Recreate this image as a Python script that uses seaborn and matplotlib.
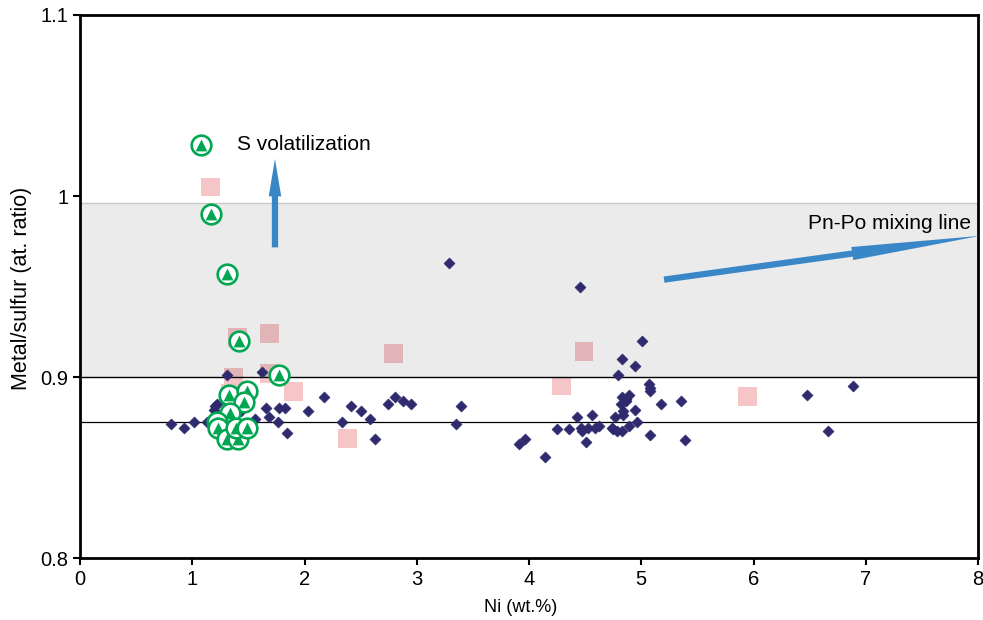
import matplotlib
matplotlib.use("Agg")
import matplotlib.pyplot as plt
import seaborn as sns
from matplotlib.legend_handler import HandlerTuple

# Pentlandite / pyrrhotite analyses: Ni content vs metal/sulfur atomic ratio
ni_sulfide = [0.81, 0.93, 1.02, 1.13, 1.19, 1.20, 1.22, 1.31, 1.43, 1.56, 1.62, 1.66,
              1.68, 1.76, 1.77, 1.83, 1.84, 2.03, 2.17, 2.33, 2.41, 2.50, 2.58, 2.63,
              2.74, 2.81, 2.88, 2.95, 3.29, 3.35, 3.39, 3.91, 3.96, 4.14, 4.25, 4.36,
              4.43, 4.45, 4.46, 4.47, 4.51, 4.53, 4.56, 4.59, 4.62, 4.74, 4.75, 4.78,
              4.77, 4.79, 4.82, 4.83, 4.83, 4.83, 4.84, 4.84, 4.86, 4.86, 4.89, 4.89,
              4.94, 4.94, 4.96, 5.01, 5.07, 5.08, 5.08, 5.08, 5.18, 5.35, 5.39, 6.48,
              6.66, 6.89]
ms_sulfide = [0.874, 0.872, 0.875, 0.875, 0.882, 0.884, 0.885, 0.901, 0.881, 0.877, 0.903, 0.883,
              0.878, 0.875, 0.883, 0.883, 0.869, 0.881, 0.889, 0.875, 0.884, 0.881, 0.877, 0.866,
              0.885, 0.889, 0.887, 0.885, 0.963, 0.874, 0.884, 0.863, 0.866, 0.856, 0.871, 0.871,
              0.878, 0.950, 0.872, 0.870, 0.864, 0.872, 0.879, 0.872, 0.873, 0.872, 0.871, 0.870,
              0.878, 0.901, 0.885, 0.889, 0.910, 0.870, 0.881, 0.879, 0.887, 0.888, 0.890, 0.873,
              0.906, 0.882, 0.875, 0.920, 0.896, 0.894, 0.892, 0.868, 0.885, 0.887, 0.865, 0.890,
              0.870, 0.895]

# Second sample group (pale squares)
ni_square = [1.16, 1.40, 1.69, 1.37, 1.69, 1.34, 1.90, 2.38, 2.79, 4.29, 4.49, 5.95]
ms_square = [1.005, 0.922, 0.924, 0.900, 0.902, 0.891, 0.892, 0.866, 0.913, 0.895, 0.914, 0.889]

# Grains affected by S volatilization
ni_svol = [1.17, 1.31, 1.42, 1.77, 1.33, 1.49, 1.46, 1.34, 1.22, 1.23, 1.31, 1.41, 1.39, 1.49]
ms_svol = [0.990, 0.957, 0.920, 0.901, 0.890, 0.892, 0.886, 0.880, 0.875, 0.872, 0.866, 0.866, 0.872, 0.872]

# Reference levels and arrows
band_low, band_high = 0.9, 0.996
ref_line = 0.875
svol_arrow = [(1.737, 0.9716), (1.737, 1.0205)]
mix_arrow = [(5.203, 0.9538), (8.02, 0.978)]

x_ticks = [0, 1, 2, 3, 4, 5, 6, 7, 8]
y_ticks = [0.8, 0.9, 1.0, 1.1]
y_tick_labels = ["0.8", "0.9", "1", "1.1"]

navy = "#2f2a6e"
pink = "#f5c5c7"
green = "#00a651"
blue = "#3a87c8"

sns.set_style("ticks")
plt.rcParams["font.family"] = ["Liberation Sans", "DejaVu Sans"]
plt.rcParams["text.color"] = "black"
plt.rcParams["axes.labelcolor"] = "black"

fig = plt.figure(figsize=(9.83, 6.2), dpi=100)
ax = fig.add_axes([80 / 983, 62 / 620, 898 / 983, 543 / 620])

sns.scatterplot(x=ni_square, y=ms_square, marker="s", s=185, color=pink,
                edgecolor="none", linewidth=0, ax=ax, zorder=1)

ax.axhspan(band_low, band_high, color="black", alpha=0.078, lw=0, zorder=2)
ax.axhline(band_high, color="#c8c8c8", lw=1.0, zorder=2)
ax.axhline(band_low, color="black", lw=1.0, zorder=2.5)
ax.axhline(ref_line, color="black", lw=0.9, zorder=2.5)

sns.scatterplot(x=ni_sulfide, y=ms_sulfide, marker="D", s=32, color=navy,
                edgecolor=navy, linewidth=0.4, ax=ax, zorder=3)

# each S-volatilization symbol is a ring with a triangle inside, stacked point by point
for i, (xv, yv) in enumerate(zip(ni_svol, ms_svol)):
    z = 4 + i * 0.01
    circ = ax.scatter([xv], [yv], marker="o", s=200, facecolor="white",
                      edgecolor=green, linewidth=1.9, zorder=z)
    tri = ax.scatter([xv], [yv], marker="^", s=72, color=green, linewidth=0,
                     zorder=z + 0.005)

ax.annotate("", xy=svol_arrow[1], xytext=svol_arrow[0],
            arrowprops=dict(arrowstyle="simple,head_length=2.7,head_width=0.9,tail_width=0.45",
                            mutation_scale=10, fc=blue, ec="none", shrinkA=0, shrinkB=0),
            zorder=6)
ax.annotate("", xy=mix_arrow[1], xytext=mix_arrow[0], annotation_clip=False,
            arrowprops=dict(arrowstyle="simple,head_length=9.3,head_width=0.95,tail_width=0.45",
                            mutation_scale=10, fc=blue, ec="none", shrinkA=0, shrinkB=0,
                            clip_on=False),
            zorder=6)
ax.text(7.94, 0.985, "Pn-Po mixing line", ha="right", va="center", fontsize=15,
        color="black", zorder=7)

leg = ax.legend(handles=[(circ, tri)], labels=["S volatilization"],
                handler_map={tuple: HandlerTuple(ndivide=1)},
                loc="center left", bbox_to_anchor=(0.1236, 0.7606), borderaxespad=0,
                borderpad=0, frameon=False, handlelength=1.0, handletextpad=1.2,
                fontsize=15, labelcolor="black")

ax.set_xlim(0, 8)
ax.set_ylim(0.8, 1.1)
ax.set_xticks(x_ticks)
ax.set_yticks(y_ticks)
ax.set_yticklabels(y_tick_labels)
ax.tick_params(direction="out", length=5, width=1.5, labelsize=14.5, colors="black")
for sp in ax.spines.values():
    sp.set_linewidth(2)
    sp.set_color("black")
ax.set_xlabel("Ni (wt.%)", fontsize=13)
ax.xaxis.set_label_coords((521 - 80) / 898, -(607 - 558) / 543)
ax.xaxis.label.set_va("center")
ax.set_ylabel("Metal/sulfur (at. ratio)", fontsize=15.5)
ax.yaxis.set_label_coords(-(80 - 22) / 898, (558 - 288) / 543)
ax.yaxis.label.set_va("center")

fig.savefig("out.png", dpi=100)
